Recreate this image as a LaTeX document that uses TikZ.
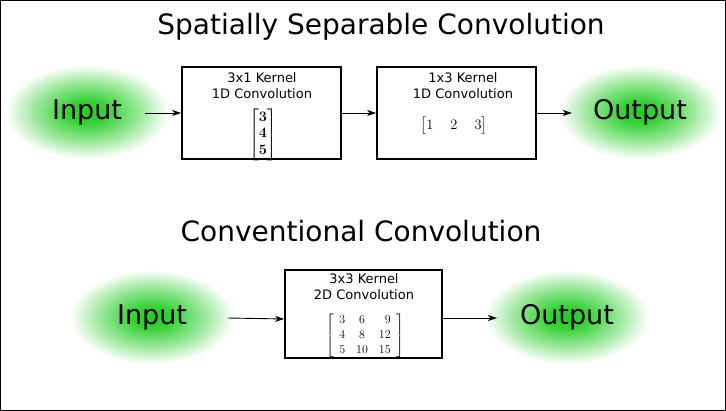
\documentclass[tikz,border=0pt]{standalone}
\usepackage{amsmath}
\usepackage[no-math]{fontspec}
\setmainfont{DejaVu Sans}
\usetikzlibrary{arrows.meta,shapes.geometric}
\definecolor{glowgreen}{RGB}{34,204,34}
\pgfdeclareradialshading{glow}{\pgfpoint{0bp}{0bp}}{%
  color(0bp)=(glowgreen); color(6bp)=(glowgreen!90!white); color(16bp)=(glowgreen!45!white); color(25bp)=(white); color(50bp)=(white)}
\tikzset{
  glownode/.style={ellipse, shading=glow, minimum width=164pt, minimum height=94pt, font=\fontsize{27}{30}\selectfont, inner sep=0pt},
  kbox/.style={draw, line width=1.6pt, inner sep=0pt},
  boxtext/.style={font=\fontsize{13}{16}\selectfont, align=center, anchor=north, inner sep=0pt},
  mtx/.style={inner sep=0pt},
  titletext/.style={font=\fontsize{28}{32}\selectfont},
  conn/.style={line width=0.9pt, -{Stealth[length=9pt, width=6pt, inset=2.5pt]}},
}
\begin{document}
\begin{tikzpicture}[x=1pt, y=-1pt]
\useasboundingbox (0,0) rectangle (726,411);
\draw[line width=1pt] (0.5,0.5) rectangle (725.5,410.5);
\node[titletext] (t1) at (381,27) {Spatially Separable Convolution};
\node[titletext] (t2) at (361,231) {Conventional Convolution};
% top row
\node[glownode] (in1) at (87,112) {Input};
\node[glownode] (out1) at (640,112) {Output};
\node[kbox, minimum width=159pt, minimum height=92pt] (b1) at (261.5,113) {};
\node[kbox, minimum width=159pt, minimum height=92pt] (b2) at (456.5,113) {};
\node[boxtext] (b1t) at (262,72) {3x1 Kernel\\1D Convolution};
\node[mtx, font=\fontsize{15}{18}\selectfont] (m1) at (263,134.5) {\renewcommand{\arraystretch}{0.93}$\begin{bmatrix}\mathbf{3}\\ \mathbf{4}\\ \mathbf{5}\end{bmatrix}$};
\node[boxtext] (b2t) at (463,72) {1x3 Kernel\\1D Convolution};
\node[mtx, font=\fontsize{15}{18}\selectfont] (m2) at (454,126) {\setlength{\arraycolsep}{8.5pt}$\begin{bmatrix}1 & 2 & 3\end{bmatrix}$};
\coordinate (a1s) at (145,113);
\draw[conn] (a1s) -- (b1.west |- a1s);
\draw[conn] (b1.east) -- (b2.west);
\draw[conn] (b2.east) -- ++(35,0);
% bottom row
\node[glownode] (in2) at (152,317) {Input};
\node[glownode] (out2) at (567,317) {Output};
\node[kbox, minimum width=157pt, minimum height=88pt] (b3) at (363.5,314) {};
\node[boxtext] (b3t) at (364,273) {3x3 Kernel\\2D Convolution};
\node[mtx, font=\fontsize{13}{15}\selectfont] (m3) at (365,336) {\setlength{\arraycolsep}{5.5pt}\renewcommand{\arraystretch}{1.0}$\left[\begin{array}{lcr}3 & 6 & 9\\ 4 & 8 & 12\\ 5 & 10 & 15\end{array}\right]$};
\coordinate (a3s) at (228,318);
\draw[conn] (a3s) -- (b3.west |- 0,319);
\draw[conn] (b3.east |- 0,318) -- (497,318);
\end{tikzpicture}
\end{document}
